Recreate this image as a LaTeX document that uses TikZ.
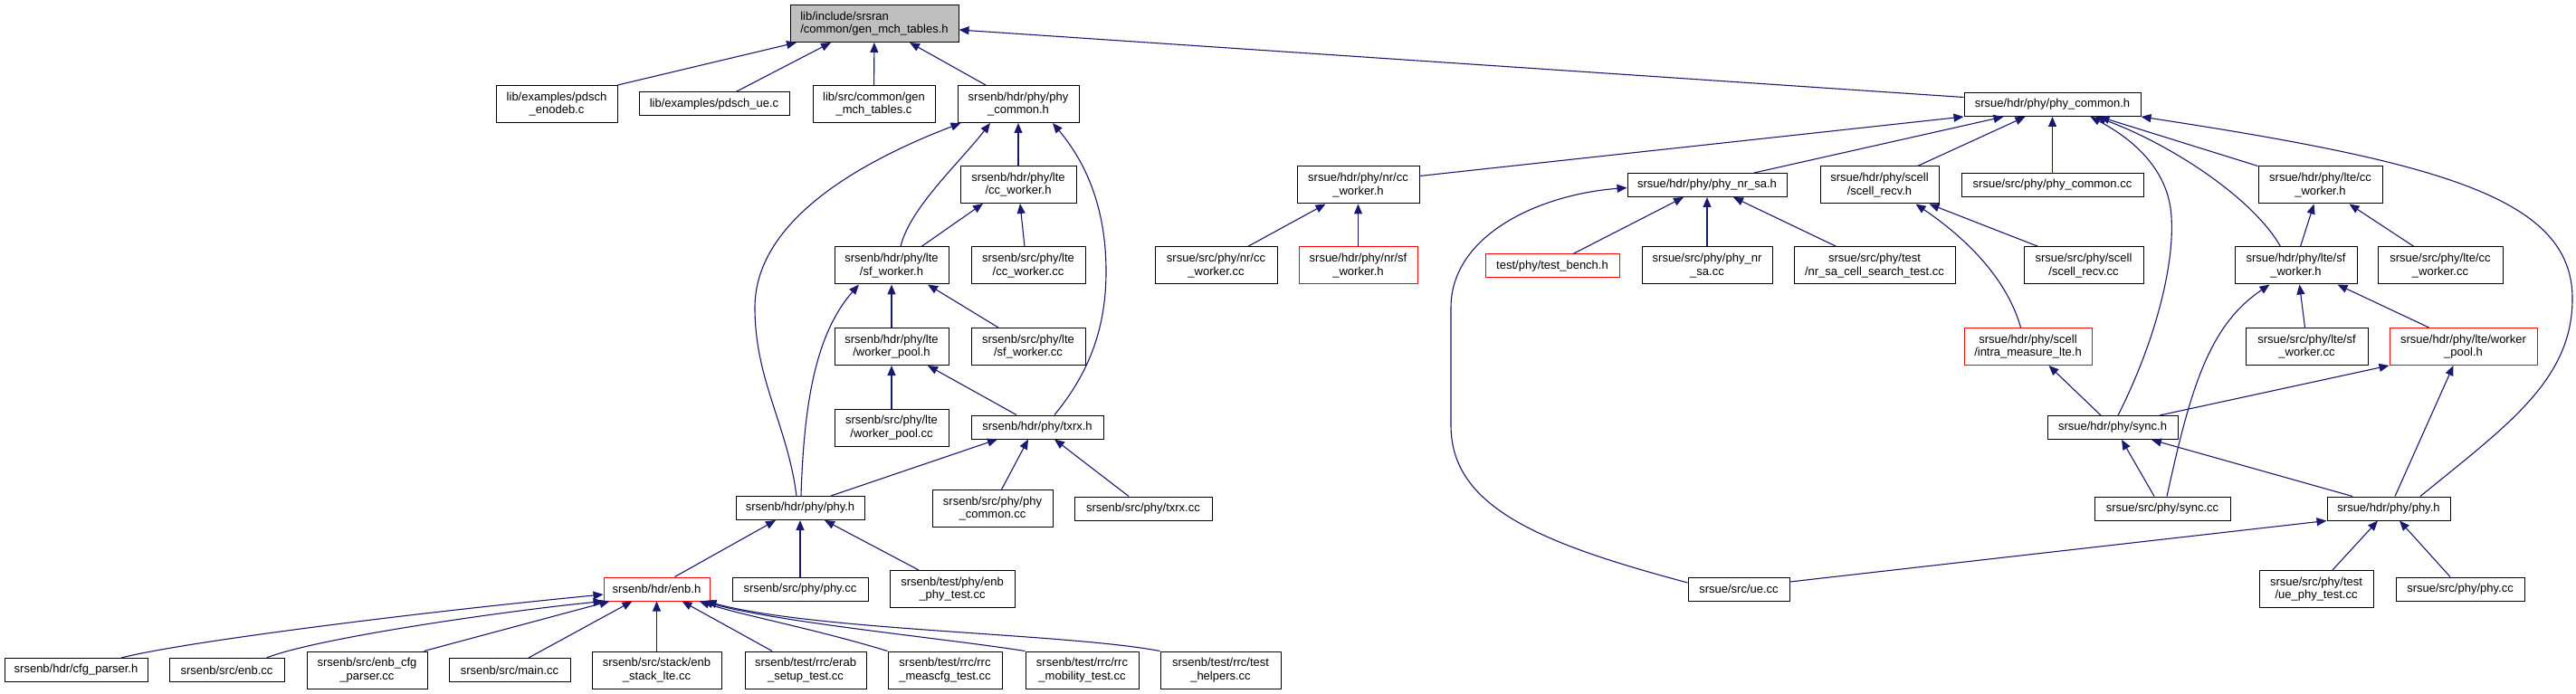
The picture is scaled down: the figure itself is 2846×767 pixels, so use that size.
\documentclass[tikz,border=0pt]{standalone}
\usepackage{fontspec}
\setmainfont{Liberation Sans}
\usetikzlibrary{arrows.meta}
\definecolor{edgeblue}{HTML}{191970}
\definecolor{rootgray}{HTML}{BFBFBF}

\begin{document}
\begin{tikzpicture}[
		x=1pt, y=-1pt,
		box/.style={draw, fill=white, line width=1pt, align=center, inner sep=2pt, minimum height=26pt, font=\fontsize{13}{14.5}\selectfont},
		two/.style={minimum height=41pt},
		trunc/.style={draw=red},
		arrow/.style={-{Triangle[length=11pt, width=9pt]}, edgeblue, line width=1.1pt}
	]
		\useasboundingbox (0,0) rectangle (2846,767);

		\node[box, two, fill=rootgray, align=left, minimum width=186pt] (root) at (966,26) {lib/include/srsran\\/common/gen\_mch\_tables.h};
		\node[box, two, minimum width=134pt] (enodeb) at (615,115) {lib/examples/pdsch\\\_enodeb.c};
		\node[box, minimum width=166pt] (pdschue) at (789,115) {lib/examples/pdsch\_ue.c};
		\node[box, two, minimum width=135pt] (genmchc) at (965.5,115) {lib/src/common/gen\\\_mch\_tables.c};
		\node[box, two, minimum width=134pt] (enbphycommon) at (1125,115) {srsenb/hdr/phy/phy\\\_common.h};
		\node[box, two, minimum width=128pt] (enbccworker) at (1125,204) {srsenb/hdr/phy/lte\\/cc\_worker.h};
		\node[box, two, minimum width=126pt] (enbsfworker) at (985,293.5) {srsenb/hdr/phy/lte\\/sf\_worker.h};
		\node[box, two, minimum width=126pt] (enbccworkercc) at (1136,293.5) {srsenb/src/phy/lte\\/cc\_worker.cc};
		\node[box, two, minimum width=126pt] (enbworkerpool) at (985,383) {srsenb/hdr/phy/lte\\/worker\_pool.h};
		\node[box, two, minimum width=126pt] (enbsfworkercc) at (1136,383) {srsenb/src/phy/lte\\/sf\_worker.cc};
		\node[box, two, minimum width=126pt] (enbworkerpoolcc) at (985,472.5) {srsenb/src/phy/lte\\/worker\_pool.cc};
		\node[box, minimum width=146pt] (enbtxrx) at (1146,472) {srsenb/hdr/phy/txrx.h};
		\node[box, minimum width=142pt] (enbphy) at (884,561.5) {srsenb/hdr/phy/phy.h};
		\node[box, two, minimum width=133pt] (enbphycommoncc) at (1096.5,562) {srsenb/src/phy/phy\\\_common.cc};
		\node[box, minimum width=152pt] (enbtxrxcc) at (1263,562) {srsenb/src/phy/txrx.cc};
		\node[box, trunc, minimum width=117pt] (enb) at (725.5,651) {srsenb/hdr/enb.h};
		\node[box, minimum width=150pt] (enbphycc) at (884,651) {srsenb/src/phy/phy.cc};
		\node[box, two, minimum width=138pt] (enbphytest) at (1052,651) {srsenb/test/phy/enb\\\_phy\_test.cc};
		\node[box, minimum width=158pt] (cfgparser) at (84,740.5) {srsenb/hdr/cfg\_parser.h};
		\node[box, minimum width=127pt] (enbcc) at (250.5,740.5) {srsenb/src/enb.cc};
		\node[box, two, minimum width=133pt] (enbcfgparser) at (405.5,740.5) {srsenb/src/enb\_cfg\\\_parser.cc};
		\node[box, minimum width=134pt] (maincc) at (563,740.5) {srsenb/src/main.cc};
		\node[box, two, minimum width=143pt] (stacklte) at (725.5,740.5) {srsenb/src/stack/enb\\\_stack\_lte.cc};
		\node[box, two, minimum width=134pt] (erabtest) at (890,740.5) {srsenb/test/rrc/erab\\\_setup\_test.cc};
		\node[box, two, minimum width=126pt] (meascfgtest) at (1044,740.5) {srsenb/test/rrc/rrc\\\_meascfg\_test.cc};
		\node[box, two, minimum width=125pt] (mobilitytest) at (1195.5,740.5) {srsenb/test/rrc/rrc\\\_mobility\_test.cc};
		\node[box, two, minimum width=133pt] (testhelpers) at (1348.5,740.5) {srsenb/test/rrc/test\\\_helpers.cc};

		\node[box, minimum width=195pt] (uephycommon) at (2267.5,115.5) {srsue/hdr/phy/phy\_common.h};
		\node[box, two, minimum width=135pt] (nrccworker) at (1500.5,204.5) {srsue/hdr/phy/nr/cc\\\_worker.h};
		\node[box, minimum width=176pt] (phynrsa) at (1886,204.5) {srsue/hdr/phy/phy\_nr\_sa.h};
		\node[box, two, minimum width=131pt] (scellrecv) at (2076.5,204.5) {srsue/hdr/phy/scell\\/scell\_recv.h};
		\node[box, minimum width=201pt] (uephycommoncc) at (2267.5,204.5) {srsue/src/phy/phy\_common.cc};
		\node[box, two, minimum width=137pt] (ueccworker) at (2563.5,204.5) {srsue/hdr/phy/lte/cc\\\_worker.h};
		\node[box, two, minimum width=135pt] (nrccworkercc) at (1343.5,293.5) {srsue/src/phy/nr/cc\\\_worker.cc};
		\node[box, two, trunc, minimum width=131pt] (nrsfworker) at (1500.5,293.5) {srsue/hdr/phy/nr/sf\\\_worker.h};
		\node[box, trunc, minimum width=148pt] (testbench) at (1715,294) {test/phy/test\_bench.h};
		\node[box, two, minimum width=144pt] (phynrsacc) at (1886,293.5) {srsue/src/phy/phy\_nr\\\_sa.cc};
		\node[box, two, minimum width=178pt] (cellsearchtest) at (2071,293.5) {srsue/src/phy/test\\/nr\_sa\_cell\_search\_test.cc};
		\node[box, two, minimum width=132pt] (scellrecvcc) at (2302,293.5) {srsue/src/phy/scell\\/scell\_recv.cc};
		\node[box, two, minimum width=135pt] (uesfworker) at (2536.5,293.5) {srsue/hdr/phy/lte/sf\\\_worker.h};
		\node[box, two, minimum width=138pt] (ueccworkercc) at (2696,293.5) {srsue/src/phy/lte/cc\\\_worker.cc};
		\node[box, two, trunc, minimum width=141pt] (intrameasure) at (2240.5,383) {srsue/hdr/phy/scell\\/intra\_measure\_lte.h};
		\node[box, two, minimum width=135pt] (uesfworkercc) at (2548.5,383) {srsue/src/phy/lte/sf\\\_worker.cc};
		\node[box, two, trunc, minimum width=163pt] (ueworkerpool) at (2721.5,383) {srsue/hdr/phy/lte/worker\\\_pool.h};
		\node[box, minimum width=144pt] (sync) at (2334,472.5) {srsue/hdr/phy/sync.h};
		\node[box, minimum width=150pt] (synccc) at (2389,562) {srsue/src/phy/sync.cc};
		\node[box, minimum width=136pt] (uephy) at (2639,562) {srsue/hdr/phy/phy.h};
		\node[box, minimum width=112pt] (uecc) at (1921,651) {srsue/src/ue.cc};
		\node[box, two, minimum width=126pt] (uephytest) at (2559,651) {srsue/src/phy/test\\/ue\_phy\_test.cc};
		\node[box, minimum width=142pt] (uephycc) at (2718,651) {srsue/src/phy/phy.cc};

		\draw[arrow] (enodeb.north east) -- ([xshift=-86pt]root.south);
		\draw[arrow] ([xshift=24pt]pdschue.north) -- ([xshift=-48pt]root.south);
		\draw[arrow] (genmchc) -- (root);
		\draw[arrow] ([xshift=-36pt]enbphycommon.north) -- ([xshift=39pt]root.south);
		\draw[arrow] ([yshift=8pt]uephycommon.west) -- ([yshift=-7pt]root.east);

		\draw[arrow] ([xshift=-4pt]enbphy.north) .. controls (870,470) and (834,420) .. (834,340) .. controls (834,240) and (960,175) .. ([xshift=4pt]enbphycommon.south west);
		\draw[arrow] ([xshift=1pt]enbphy.north) .. controls (888,450) and (900,370) .. ([xshift=-36pt]enbsfworker.south);
		\draw[arrow] ([xshift=10pt]enbsfworker.north) .. controls (1005,230) and (1060,180) .. ([xshift=-31pt]enbphycommon.south);
		\draw[arrow] ([xshift=33pt]enbsfworker.north) -- ([xshift=-39pt]enbccworker.south);
		\draw[arrow] ([xshift=-4pt]enbccworkercc.north) -- ([xshift=2pt]enbccworker.south);
		\draw[arrow] (enbccworker) -- (enbphycommon);
		\draw[arrow] ([xshift=19pt]enbtxrx.north) .. controls (1205,410) and (1222,360) .. (1222,300) .. controls (1222,230) and (1200,180) .. ([xshift=38pt]enbphycommon.south);
		\draw[arrow] (enbworkerpool) -- (enbsfworker);
		\draw[arrow] ([xshift=-33pt]enbsfworkercc.north) -- ([xshift=40pt]enbsfworker.south);
		\draw[arrow] (enbworkerpoolcc) -- (enbworkerpool);
		\draw[arrow] ([xshift=-23pt]enbtxrx.north) -- ([xshift=40pt]enbworkerpool.south);
		\draw[arrow] ([xshift=34pt]enbphy.north) -- ([xshift=-44pt]enbtxrx.south);
		\draw[arrow] ([xshift=10pt]enbphycommoncc.north) -- ([xshift=-10pt]enbtxrx.south);
		\draw[arrow] ([xshift=-16pt]enbtxrxcc.north) -- ([xshift=19pt]enbtxrx.south);
		\draw[arrow] ([xshift=20pt]enb.north) -- ([xshift=-27pt]enbphy.south);
		\draw[arrow] (enbphycc) -- (enbphy);
		\draw[arrow] ([xshift=-37pt]enbphytest.north) -- ([xshift=27pt]enbphy.south);

		\draw[arrow] ([xshift=50pt]cfgparser.north) .. controls (200,710) and (450,678) .. ([yshift=-6pt]enb.west);
		\draw[arrow] ([xshift=44pt]enbcc.north) .. controls (350,705) and (560,675) .. (enb.south west);
		\draw[arrow] ([xshift=-4pt]enbcfgparser.north east) -- ([xshift=-52pt]enb.south);
		\draw[arrow] ([xshift=21pt]maincc.north) -- ([xshift=-27pt]enb.south);
		\draw[arrow] (stacklte) -- (enb);
		\draw[arrow] ([xshift=-37pt]erabtest.north) -- ([xshift=28pt]enb.south);
		\draw[arrow] (meascfgtest.north west) .. controls (900,695) and (820,680) .. ([xshift=47pt]enb.south);
		\draw[arrow] (mobilitytest.north west) .. controls (1040,705) and (860,688) .. ([xshift=51pt]enb.south);
		\draw[arrow] (testhelpers.north west) .. controls (1180,700) and (900,697) .. ([xshift=-4pt]enb.south east);

		\draw[arrow] ([yshift=10pt]nrccworker.east) -- (uephycommon.south west);
		\draw[arrow] ([xshift=52pt]phynrsa.north) -- ([xshift=-54pt]uephycommon.south);
		\draw[arrow] ([xshift=42pt]scellrecv.north) -- ([xshift=-30pt]uephycommon.south);
		\draw[arrow] (uephycommoncc) -- (uephycommon);
		\draw[arrow] ([xshift=6pt]sync.north) .. controls (2385,370) and (2405,280) .. (2398,230) .. controls (2390,175) and (2340,145) .. ([xshift=42pt]uephycommon.south);
		\draw[arrow] ([xshift=-17pt]uesfworker.north) .. controls (2490,220) and (2400,160) .. ([xshift=48pt]uephycommon.south);
		\draw[arrow] (ueccworker.north west) -- ([xshift=52pt]uephycommon.south);
		\draw[arrow] ([xshift=35pt]uephy.north) .. controls (2770,470) and (2842,420) .. (2842,330) .. controls (2842,220) and (2700,180) .. (uephycommon.south east);

		\draw[arrow] ([xshift=35pt]nrccworkercc.north) -- ([xshift=-36pt]nrccworker.south);
		\draw[arrow] (nrsfworker) -- (nrccworker);
		\draw[arrow] ([xshift=23pt]testbench.north) -- ([xshift=-26pt]phynrsa.south);
		\draw[arrow] (phynrsacc) -- (phynrsa);
		\draw[arrow] ([xshift=-42pt]cellsearchtest.north) -- ([xshift=29pt]phynrsa.south);
		\draw[arrow] ([yshift=7pt]uecc.west) .. controls (1700,600) and (1603,560) .. (1603,470) -- (1603,340) .. controls (1603,260) and (1700,215) .. ([yshift=-3pt]phynrsa.west);
		\draw[arrow] ([xshift=-8pt]intrameasure.north) .. controls (2215,300) and (2160,255) .. ([xshift=40pt]scellrecv.south);
		\draw[arrow] ([xshift=-50pt]scellrecvcc.north) -- ([xshift=55pt]scellrecv.south);
		\draw[arrow] ([xshift=5pt]uesfworker.north) -- ([xshift=-7pt]ueccworker.south);
		\draw[arrow] ([xshift=-29pt]ueccworkercc.north) -- ([xshift=32pt]ueccworker.south);
		\draw[arrow] ([xshift=-2pt]uesfworkercc.north) -- ([xshift=4pt]uesfworker.south);
		\draw[arrow] ([xshift=-38pt]ueworkerpool.north) -- ([xshift=46pt]uesfworker.south);
		\draw[arrow] ([xshift=5pt]synccc.north) .. controls (2420,430) and (2440,360) .. ([xshift=-29pt]uesfworker.south);
		\draw[arrow] ([xshift=52pt]sync.north) -- (ueworkerpool.south west);
		\draw[arrow] ([xshift=7pt]uephy.north) -- ([xshift=-11pt]ueworkerpool.south);
		\draw[arrow] ([xshift=-13pt]sync.north) -- ([xshift=23pt]intrameasure.south);
		\draw[arrow] ([xshift=-9pt]synccc.north) -- ([xshift=10pt]sync.south);
		\draw[arrow] ([xshift=-40pt]uephy.north) -- ([xshift=43pt]sync.south);
		\draw[arrow] ([yshift=8pt]uecc.east) -- (uephy.south west);
		\draw[arrow] ([xshift=18pt]uephytest.north) -- ([xshift=-12pt]uephy.south);
		\draw[arrow] ([xshift=-11pt]uephycc.north) -- ([xshift=12pt]uephy.south);
	\end{tikzpicture}
\end{document}
